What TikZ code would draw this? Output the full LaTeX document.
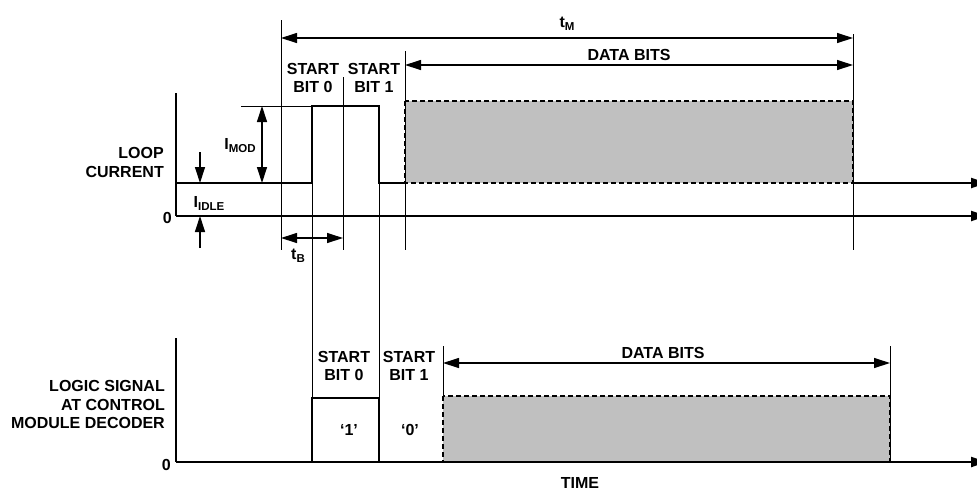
\documentclass[tikz,border=0pt]{standalone}
\usepackage{fontspec}
\setmainfont{Liberation Sans}
\usetikzlibrary{arrows.meta}
\definecolor{boxgray}{RGB}{192,192,192}
\newcommand\lowsub[1]{\raisebox{-3.5pt}{\fontsize{11.5}{11.5}\selectfont #1}}
\begin{document}
\begin{tikzpicture}[x=1pt,y=-1pt,
  wave/.style={line width=2.2pt, line join=miter},
  guide/.style={line width=1pt},
  dim/.style={line width=1.2pt, {Triangle[length=16pt,width=10pt]}-{Triangle[length=16pt,width=10pt]}},
  tipone/.style={line width=1.2pt, -{Triangle[length=16pt,width=10pt]}},
  axis/.style={line width=2.2pt, -{Triangle[length=16pt,width=10pt]}},
  databox/.style={fill=boxgray, draw=black, line width=2.4pt, dash pattern=on 5pt off 3pt},
  lbl/.style={font=\fontsize{16}{18.5}\selectfont\bfseries, inner sep=0pt, align=center},
]
\useasboundingbox (0,0) rectangle (977,491);

% ---------- coordinates, upper plot ----------
\coordinate (a1t) at (176,93);
\coordinate (z1) at (176,216);  \coordinate (z1e) at (987,216);
\coordinate (i0) at (176,183);  \coordinate (p1) at (312,183);
\coordinate (p2) at (312,106);  \coordinate (p3) at (379,106);
\coordinate (p4) at (379,183);  \coordinate (p5) at (405,183);
\coordinate (b1a) at (405,101); \coordinate (b1b) at (853,183);
\coordinate (i1e) at (987,183);
\coordinate (g1t) at (281,20);  \coordinate (g1b) at (281,250);
\coordinate (g2t) at (343,77);  \coordinate (g2b) at (343,250);
\coordinate (g3t) at (405,51);  \coordinate (g3b) at (405,250);
\coordinate (g4t) at (853,34);  \coordinate (g4b) at (853,250);
\coordinate (mref) at (241,106);
\coordinate (tma) at (281,38);  \coordinate (tmb) at (853,38);
\coordinate (dba) at (405,65);  \coordinate (dbb) at (853,65);
\coordinate (ima) at (262,106); \coordinate (imb) at (262,183);
\coordinate (ida) at (200,152); \coordinate (idb) at (200,183);
\coordinate (idc) at (200,248); \coordinate (idd) at (200,216);
\coordinate (tba) at (281,238); \coordinate (tbb) at (343,238);

% ---------- coordinates, lower plot ----------
\coordinate (a2t) at (176,338);
\coordinate (z2) at (176,462);  \coordinate (z2e) at (987,462);
\coordinate (q1) at (312,462);  \coordinate (q2) at (312,398);
\coordinate (q3) at (379,398);  \coordinate (q4) at (379,462);
\coordinate (b2a) at (443,396); \coordinate (b2b) at (890,462);
\coordinate (h1t) at (443,346); \coordinate (h1b) at (443,396);
\coordinate (h2t) at (890,346); \coordinate (h2b) at (890,462);
\coordinate (dca) at (443,363); \coordinate (dcb) at (890,363);

% ---------- upper plot ----------
\fill[boxgray] (b1a) rectangle (b1b);
\draw[guide] (g1t) -- (g1b);
\draw[guide] (g2t) -- (g2b);
\draw[guide] (g3t) -- (g3b);
\draw[guide] (g4t) -- (g4b);
\draw[guide] (p2) -- (q2);
\draw[guide] (p3) -- (q3);
\draw[guide] (mref) -- (p2);
\draw[databox, fill=none] (b1a) rectangle (b1b);
\draw[wave] (a1t) -- (z1);
\draw[axis] (z1) -- (z1e);
\draw[wave] (i0) -- (p1) -- (p2) -- (p3) -- (p4) -- (p5);
\draw[axis] (b1b) -- (i1e);
\draw[dim] (tma) -- (tmb);
\draw[dim] (dba) -- (dbb);
\draw[dim] (ima) -- (imb);
\draw[tipone] (ida) -- (idb);
\draw[tipone] (idc) -- (idd);
\draw[dim] (tba) -- (tbb);

\node[lbl, anchor=north east, align=right] (loop) at (164,147.5) {LOOP\\CURRENT};
\node[lbl, anchor=base east] (zero1) at (172,223) {0};
\node[lbl, anchor=base] (tm) at (567,27) {t\lowsub{M}};
\node[lbl, anchor=base] (dbits1) at (629,60) {DATA BITS};
\node[lbl, anchor=north] (sb0) at (313,63) {START\\BIT 0};
\node[lbl, anchor=north] (sb1) at (374,63) {START\\BIT 1};
\node[lbl, anchor=base] (imod) at (240,149) {I\lowsub{MOD}};
\node[lbl, anchor=base] (iidle) at (209,207) {I\lowsub{IDLE}};
\node[lbl, anchor=base] (tb) at (298,259) {t\lowsub{B}};

% ---------- lower plot ----------
\fill[boxgray] (b2a) rectangle (b2b);
\draw[guide] (h1t) -- (h1b);
\draw[guide] (h2t) -- (h2b);
\draw[databox, fill=none] (b2a) rectangle (b2b);
\draw[wave] (a2t) -- (z2);
\draw[axis] (z2) -- (z2e);
\draw[wave] (q1) -- (q2) -- (q3) -- (q4);
\draw[dim] (dca) -- (dcb);

\node[lbl, anchor=north east, align=right] (logic) at (165,380.5) {LOGIC SIGNAL\\AT CONTROL\\MODULE DECODER};
\node[lbl, anchor=base east] (zero2) at (171,470) {0};
\node[lbl, anchor=north] (lsb0) at (344,351) {START\\BIT 0};
\node[lbl, anchor=north] (lsb1) at (409,351) {START\\BIT 1};
\node[lbl, anchor=base] (one) at (349,435) {‘1’};
\node[lbl, anchor=base] (zero) at (410,435) {‘0’};
\node[lbl, anchor=base] (dbits2) at (663,358) {DATA BITS};
\node[lbl, anchor=base] (time) at (580,488) {TIME};
\end{tikzpicture}
\end{document}
